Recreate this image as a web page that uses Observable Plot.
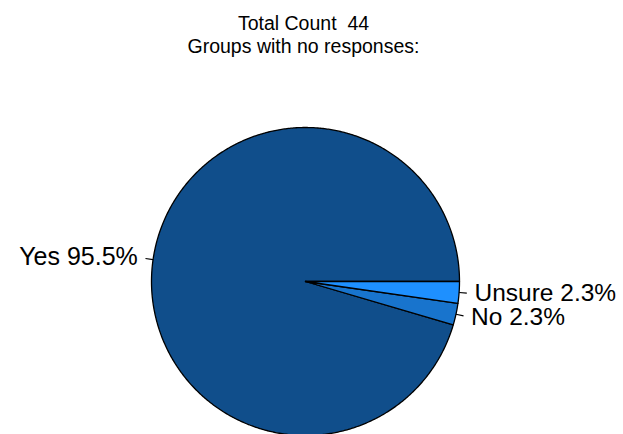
<!DOCTYPE html>
<html><head><meta charset="utf-8">
<script src="https://cdn.jsdelivr.net/npm/d3@7"></script>
<script src="https://cdn.jsdelivr.net/npm/@observablehq/plot@0.6"></script>
<style>
body{margin:0;background:#fff;font-family:"Liberation Sans",Arial,sans-serif;}
#title{width:607px;text-align:center;font-size:19.5px;line-height:22.5px;padding-top:12px;height:48px;color:#000}
#chart svg{display:block}
</style></head><body>
<div id="title"><div>Total Count&nbsp; 44</div><div>Groups with no responses:</div></div>
<div id="chart"></div>
<script>
// Data
const categories = ["Yes", "No", "Unsure"];
const counts = [42, 1, 1];
const sliceColors = ["#104E8B", "#1874CD", "#1E90FF"];

// Layout
const W = 623, H = 374, R = 154, CX = 305, CY = 221;

const total = d3.sum(counts);
// R-style pie: start at 3 o'clock, counterclockwise
let acc = 0;
const slices = categories.map((c, i) => {
  const a0 = acc / total * 2 * Math.PI;
  acc += counts[i];
  const a1 = acc / total * 2 * Math.PI;
  return {cat: c, a0, a1, mid: (a0 + a1) / 2, color: sliceColors[i],
          label: `${c} ${(counts[i] / total * 100).toFixed(1)}%`};
});

const pts = [];
for (const s of slices) {
  pts.push({cat: s.cat, color: s.color, x: 0, y: 0});
  const n = Math.max(2, Math.ceil((s.a1 - s.a0) / (Math.PI / 360)));
  for (let k = 0; k <= n; k++) {
    const a = s.a0 + (s.a1 - s.a0) * k / n;
    pts.push({cat: s.cat, color: s.color, x: Math.cos(a), y: Math.sin(a)});
  }
  pts.push({cat: s.cat, color: s.color, x: 0, y: 0});
}

const ticks = slices.map(s => ({
  x1: Math.cos(s.mid), y1: Math.sin(s.mid),
  x2: 1.05 * Math.cos(s.mid), y2: 1.05 * Math.sin(s.mid)
}));
const labels = slices.map(s => ({x: 1.1 * Math.cos(s.mid), y: 1.1 * Math.sin(s.mid), label: s.label}));

const font = '"Liberation Sans", Arial, sans-serif';
const chart = Plot.plot({
  width: W, height: H,
  margin: 0,
  x: {domain: [-CX / R, (W - CX) / R], axis: null},
  y: {domain: [-(H - CY) / R, CY / R], axis: null},
  color: {type: "identity"},
  style: {background: "#fff", fontFamily: font},
  marks: [
    Plot.line(pts, {x: "x", y: "y", z: "cat", fill: "color", stroke: "#000", strokeWidth: 1.3, strokeLinejoin: "round"}),
    Plot.link(ticks, {x1: "x1", y1: "y1", x2: "x2", y2: "y2", stroke: "#000", strokeWidth: 1.2}),
    Plot.text(labels.filter(d => d.x < 0), {x: "x", y: "y", text: "label", textAnchor: "end", fontSize: 25, fill: "#000", fontFamily: font}),
    Plot.text(labels.filter(d => d.x >= 0), {x: "x", y: "y", text: "label", textAnchor: "start", fontSize: 24.5, fill: "#000", fontFamily: font})
  ]
});
document.getElementById("chart").appendChild(chart);
</script>
</body></html>
